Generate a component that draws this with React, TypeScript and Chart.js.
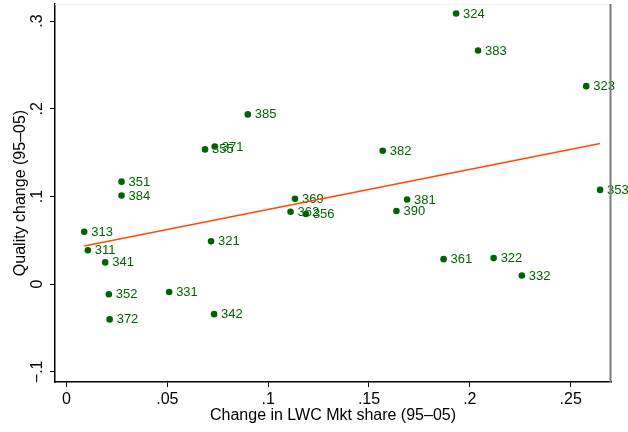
import React, { useEffect, useRef } from "react";
import { Chart, registerables } from "chart.js";

Chart.register(...registerables);

const industryCodes = ["324","383","323","382","353","381","390","369","362","356","385","371","355","351","384","313","311","341","321","352","331","342","372","361","322","332"];
const mktShareChange = [0.1932,0.2041,0.2577,0.1568,0.2646,0.1689,0.1636,0.1133,0.1111,0.1187,0.0899,0.0735,0.0687,0.0273,0.0273,0.0088,0.0106,0.0192,0.0717,0.0210,0.0509,0.0732,0.0214,0.1870,0.2118,0.2258];
const qualityChange = [0.3086,0.2664,0.2258,0.1522,0.1075,0.0966,0.0834,0.0973,0.0826,0.0800,0.1936,0.1570,0.1537,0.1169,0.1011,0.0598,0.0387,0.0248,0.0488,-0.0116,-0.0090,-0.0342,-0.0402,0.0285,0.0297,0.0098];
const fitLineX = [0.0088, 0.2646];
const fitLineY = [0.0436, 0.1604];
const xTickValues = [0, 0.05, 0.1, 0.15, 0.2, 0.25];
const xTickLabels = ["0", ".05", ".1", ".15", ".2", ".25"];
const yTickValues = [-0.1, 0, 0.1, 0.2, 0.3];
const yTickLabels = ["\u2212.1", "0", ".1", ".2", ".3"];
const xTitle = "Change in LWC Mkt share (95\u201305)";
const yTitle = "Quality change (95\u201305)";

const FONT = "'Liberation Sans', Arial, Helvetica, sans-serif";
const GREEN = "#006400";

const customPlugin = {
  id: "stataDecor",
  afterDatasetDraw(chart: any, args: any) {
    if (args.index !== 1) return;
    const ctx = chart.ctx;
    const meta = chart.getDatasetMeta(1);
    ctx.save();
    ctx.font = `13px ${FONT}`;
    ctx.fillStyle = GREEN;
    ctx.textAlign = "left";
    ctx.textBaseline = "middle";
    meta.data.forEach((el: any, i: number) => {
      ctx.fillText(industryCodes[i], el.x + 7, el.y + 0.5);
    });
    ctx.restore();
  },
  afterDraw(chart: any) {
    const ctx = chart.ctx;
    const { left, right, top, bottom } = chart.chartArea;
    const xs = chart.scales.x;
    const ys = chart.scales.y;
    ctx.save();
    ctx.strokeStyle = "#eeeeee";
    ctx.lineWidth = 1;
    ctx.beginPath();
    ctx.moveTo(left, top + 0.5);
    ctx.lineTo(right, top + 0.5);
    ctx.stroke();
    ctx.strokeStyle = "#7a7a7a";
    ctx.lineWidth = 2;
    ctx.beginPath();
    ctx.moveTo(right - 0.5, top);
    ctx.lineTo(right - 0.5, bottom);
    ctx.stroke();

    ctx.fillStyle = "#000";
    ctx.font = `16px ${FONT}`;
    ctx.textAlign = "center";
    ctx.textBaseline = "alphabetic";
    xTickValues.forEach((v, i) => {
      ctx.fillText(xTickLabels[i], xs.getPixelForValue(v), 404);
    });
    yTickValues.forEach((v, i) => {
      const y = ys.getPixelForValue(v);
      ctx.save();
      ctx.translate(42, y);
      ctx.rotate(-Math.PI / 2);
      ctx.textAlign = "center";
      ctx.textBaseline = "alphabetic";
      ctx.fillText(yTickLabels[i], 0, 0);
      ctx.restore();
    });
    ctx.font = `16px ${FONT}`;
    ctx.fillText(xTitle, (left + right) / 2, 420);
    ctx.save();
    ctx.translate(24.5, (top + bottom) / 2);
    ctx.rotate(-Math.PI / 2);
    ctx.fillText(yTitle, 0, 0);
    ctx.restore();
    ctx.restore();
  },
};

export default function App() {
  const ref = useRef<HTMLCanvasElement>(null);
  useEffect(() => {
    document.body.style.margin = "0";
    const canvas = ref.current;
    if (!canvas) return;
    const chart = new Chart(canvas, {
      type: "scatter",
      data: {
        datasets: [
          {
            type: "line",
            data: fitLineX.map((x, i) => ({ x, y: fitLineY[i] })),
            borderColor: "#ff4a0a",
            borderWidth: 1.6,
            pointRadius: 0,
            fill: false,
          } as any,
          {
            data: mktShareChange.map((x, i) => ({ x, y: qualityChange[i] })),
            backgroundColor: GREEN,
            borderWidth: 0,
            pointRadius: 3.3,
          },
        ],
      },
      options: {
        animation: false,
        responsive: false,
        maintainAspectRatio: false,
        devicePixelRatio: 1,
        layout: { padding: { left: 0, right: 17, top: 0, bottom: 0 } },
        plugins: { legend: { display: false }, tooltip: { enabled: false } },
        scales: {
          x: {
            type: "linear",
            min: -0.0057,
            max: 0.27,
            afterBuildTicks: (s: any) => {
              s.ticks = xTickValues.map((value) => ({ value }));
            },
            afterFit: (s: any) => {
              s.height = 50;
            },
            ticks: { display: false },
            grid: { drawOnChartArea: false, drawTicks: true, tickLength: 5, color: "#000", lineWidth: 1 },
            border: { display: true, color: "#000", width: 1.5 },
          },
          y: {
            type: "linear",
            min: -0.1116,
            max: 0.3195,
            afterBuildTicks: (s: any) => {
              s.ticks = yTickValues.map((value) => ({ value }));
            },
            afterFit: (s: any) => {
              s.width = 55;
            },
            ticks: { display: false },
            grid: { drawOnChartArea: false, drawTicks: true, tickLength: 5, color: "#000", lineWidth: 1 },
            border: { display: true, color: "#000", width: 1.5 },
          },
        },
      },
      plugins: [customPlugin],
    });
    return () => chart.destroy();
  }, []);
  return <canvas ref={ref} width={628} height={432} style={{ display: "block" }} />;
}
